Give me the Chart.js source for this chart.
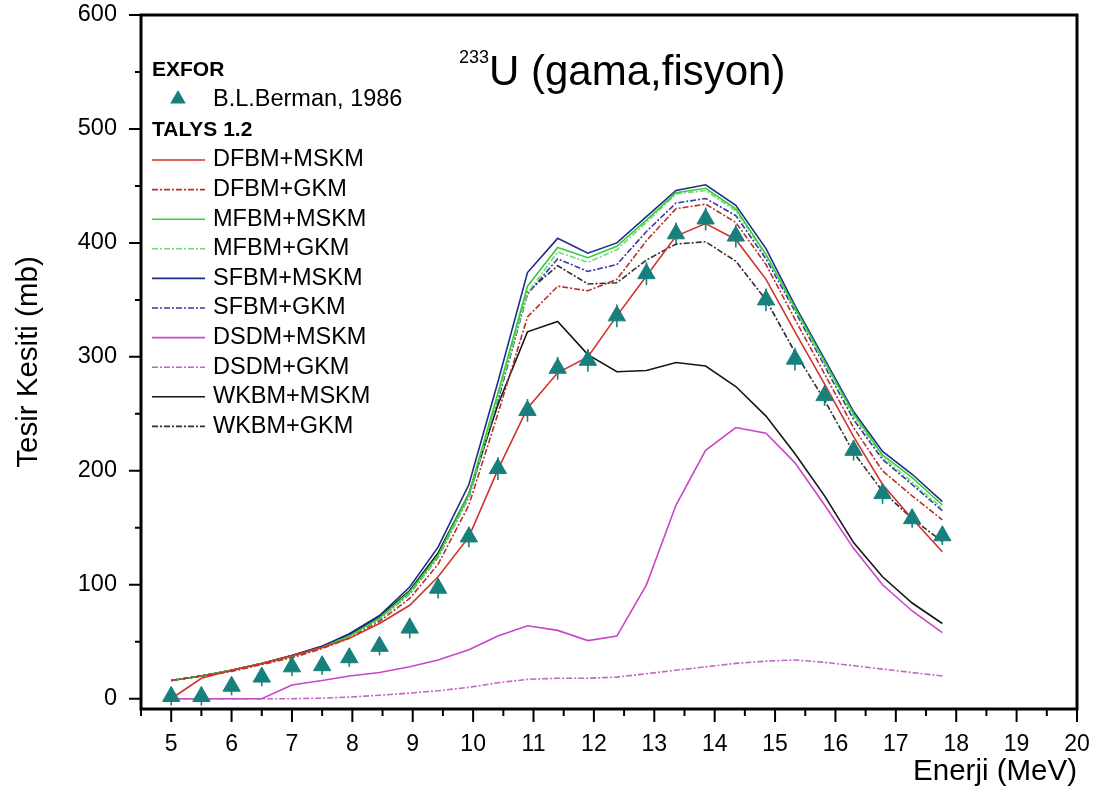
<!DOCTYPE html>
<html>
<head>
<meta charset="utf-8">
<script src="https://cdn.jsdelivr.net/npm/chart.js@4.4.1/dist/chart.umd.min.js"></script>
<style>
  html, body { margin: 0; padding: 0; background: #ffffff; }
  #wrap { width: 1096px; height: 795px; position: relative; }
</style>
</head>
<body>
<div id="wrap"><canvas id="c" width="1096" height="795"></canvas></div>
<script>
// Photon energies (MeV) of the measured points and model calculations
const energies = [5.0, 5.5, 6.0, 6.5, 7.0, 7.5, 7.95, 8.45, 8.95, 9.42, 9.93, 10.41, 10.9, 11.4, 11.9,
                  12.38, 12.87, 13.36, 13.85, 14.35, 14.85, 15.33, 15.82, 16.3, 16.78, 17.27, 17.77];

// EXFOR: B.L.Berman, 1986 (mb) and uncertainties
const berman    = [2, 2, 11, 19, 28, 29, 36, 46, 62, 97, 142, 202, 253, 290, 297,
                   336, 373, 408, 421, 406, 350, 298, 266, 218, 180, 158, 143];
const bermanErr = [8, 8, 8, 8, 8, 8, 8, 8, 9, 9, 9, 10, 10, 10, 10,
                   10, 10, 10, 10, 10, 10, 10, 9, 9, 9, 8, 8];

// TALYS 1.2 fission cross sections (mb)
const dfbmMskm = [0, 18, 25, 31, 38, 45, 53, 66, 82, 107, 142, 201, 255, 286, 300,
                  336, 371, 406, 417, 403, 368, 322, 276, 230, 188, 158, 129];
const dfbmGkm  = [16, 20, 24, 30, 36, 44, 53, 68, 88, 118, 170, 250, 335, 362, 358,
                  368, 402, 430, 434, 418, 381, 333, 285, 238, 200, 178, 157];
const mfbmMskm = [16, 20, 25, 31, 37, 45, 55, 71, 94, 126, 180, 268, 362, 396, 387,
                  397, 420, 444, 448, 430, 390, 343, 296, 250, 214, 194, 170];
const mfbmGkm  = [16, 20, 25, 31, 37, 45, 55, 70, 92, 124, 177, 264, 356, 392, 383,
                  394, 418, 443, 446, 428, 389, 342, 294, 248, 212, 190, 167];
const sfbmMskm = [16, 20, 25, 31, 38, 46, 57, 73, 98, 133, 188, 278, 374, 404, 391,
                  400, 423, 446, 451, 433, 395, 345, 298, 252, 217, 197, 173];
const sfbmGkm  = [16, 20, 25, 31, 37, 45, 55, 70, 92, 124, 177, 262, 355, 386, 375,
                  381, 410, 435, 439, 424, 386, 340, 292, 245, 210, 188, 165];
const dsdmMskm = [0, 0, 0, 0, 12, 16, 20, 23, 28, 34, 43, 55, 64, 60, 51,
                  55, 100, 170, 218, 238, 233, 207, 170, 132, 100, 77, 58];
const dsdmGkm  = [0, 0, 0, 0, 0, 0.5, 1.5, 3, 5, 7, 10, 14, 17, 18, 18,
                  19, 22, 25, 28, 31, 33, 34, 32, 29, 26, 23, 20];
const wkbmMskm = [16, 20, 25, 31, 38, 46, 56, 72, 95, 128, 180, 258, 322, 331, 302,
                  287, 288, 295, 292, 274, 248, 215, 178, 137, 107, 84, 66];
const wkbmGkm  = [16, 20, 25, 31, 37, 45, 55, 70, 93, 125, 178, 262, 357, 380, 364,
                  365, 385, 399, 401, 384, 350, 304, 262, 216, 182, 158, 138];

const seriesNames = ['DFBM+MSKM', 'DFBM+GKM', 'MFBM+MSKM', 'MFBM+GKM', 'SFBM+MSKM',
                     'SFBM+GKM', 'DSDM+MSKM', 'DSDM+GKM', 'WKBM+MSKM', 'WKBM+GKM'];
const seriesValues = [dfbmMskm, dfbmGkm, mfbmMskm, mfbmGkm, sfbmMskm,
                      sfbmGkm, dsdmMskm, dsdmGkm, wkbmMskm, wkbmGkm];

const xTicks = [5, 6, 7, 8, 9, 10, 11, 12, 13, 14, 15, 16, 17, 18, 19, 20];
const yTicks = [0, 100, 200, 300, 400, 500, 600];
const xMinorTicks = [4.5, 5.5, 6.5, 7.5, 8.5, 9.5, 10.5, 11.5, 12.5, 13.5, 14.5, 15.5, 16.5, 17.5, 18.5, 19.5];
const yMinorTicks = [50, 150, 250, 350, 450, 550];

const FONT = '"Liberation Sans", Arial, Helvetica, sans-serif';
const TEAL = '#17807d';
const DASHDOT = [6, 2, 2, 2];

const lineStyles = [
  { color: '#d2322d', dash: [] },
  { color: '#b8302a', dash: DASHDOT },
  { color: '#35cf35', dash: [] },
  { color: '#74d874', dash: DASHDOT },
  { color: '#1c2c8c', dash: [] },
  { color: '#3636a6', dash: DASHDOT },
  { color: '#c846c8', dash: [] },
  { color: '#c264c8', dash: DASHDOT },
  { color: '#151515', dash: [] },
  { color: '#303030', dash: DASHDOT }
];

const toPoints = vals => energies.map((e, i) => ({ x: e, y: vals[i] }));

const datasets = [{
  label: 'B.L.Berman, 1986',
  data: toPoints(berman),
  showLine: false,
  pointStyle: 'triangle',
  pointRadius: 10,
  backgroundColor: TEAL,
  borderColor: TEAL,
  borderWidth: 1
}];
seriesNames.forEach((name, i) => {
  datasets.push({
    label: name,
    data: toPoints(seriesValues[i]),
    showLine: true,
    borderColor: lineStyles[i].color,
    borderDash: lineStyles[i].dash,
    borderWidth: 1.6,
    pointRadius: 0,
    fill: false,
    tension: 0
  });
});

// Frame, tick marks, titles, error bars and the legend block
const decor = {
  id: 'decor',
  beforeDatasetsDraw(chart) {
    const { ctx, scales: { x, y } } = chart;
    ctx.save();
    ctx.strokeStyle = TEAL;
    ctx.lineWidth = 1.6;
    energies.forEach((e, i) => {
      const px = x.getPixelForValue(e);
      ctx.beginPath();
      ctx.moveTo(px, y.getPixelForValue(berman[i] - bermanErr[i]));
      ctx.lineTo(px, y.getPixelForValue(berman[i] + bermanErr[i]));
      ctx.stroke();
    });
    ctx.restore();
  },
  afterDraw(chart) {
    const { ctx, chartArea: a, scales: { x, y } } = chart;
    ctx.save();
    ctx.strokeStyle = '#000';
    ctx.fillStyle = '#000';

    // frame
    ctx.lineWidth = 3;
    ctx.strokeRect(a.left, a.top, a.right - a.left, a.bottom - a.top);

    // tick marks
    ctx.lineWidth = 2;
    ctx.beginPath();
    xTicks.forEach(v => { const p = x.getPixelForValue(v); ctx.moveTo(p, a.bottom); ctx.lineTo(p, a.bottom + 13); });
    xMinorTicks.forEach(v => { const p = x.getPixelForValue(v); ctx.moveTo(p, a.bottom); ctx.lineTo(p, a.bottom + 7); });
    yTicks.forEach(v => { const p = y.getPixelForValue(v); ctx.moveTo(a.left, p); ctx.lineTo(a.left - 12, p); });
    yMinorTicks.forEach(v => { const p = y.getPixelForValue(v); ctx.moveTo(a.left, p); ctx.lineTo(a.left - 6, p); });
    ctx.stroke();

    // axis titles
    ctx.font = `29.5px ${FONT}`;
    ctx.textAlign = 'center';
    ctx.textBaseline = 'middle';
    ctx.save();
    ctx.translate(29, 362);
    ctx.rotate(-Math.PI / 2);
    ctx.fillText('Tesir Kesiti (mb)', 0, 0);
    ctx.restore();
    ctx.textAlign = 'right';
    ctx.textBaseline = 'alphabetic';
    ctx.fillText('Enerji (MeV)', a.right, 780);

    // chart title with mass-number superscript
    ctx.textAlign = 'left';
    ctx.font = `18px ${FONT}`;
    ctx.fillText('233', 459, 63);
    ctx.font = `42px ${FONT}`;
    ctx.fillText('U (gama,fisyon)', 489, 85);

    // legend
    ctx.textBaseline = 'middle';
    ctx.font = `bold 21px ${FONT}`;
    ctx.fillText('EXFOR', 152, 70);
    ctx.fillText('TALYS 1.2', 152, 130);

    ctx.fillStyle = TEAL;
    const tr = 9, tx = 178, ty = 99;
    ctx.beginPath();
    ctx.moveTo(tx, ty - tr);
    ctx.lineTo(tx + tr * 0.866, ty + tr / 2);
    ctx.lineTo(tx - tr * 0.866, ty + tr / 2);
    ctx.closePath();
    ctx.fill();

    ctx.fillStyle = '#000';
    ctx.font = `23.5px ${FONT}`;
    ctx.fillText('B.L.Berman, 1986', 213, 100);

    seriesNames.forEach((name, i) => {
      const ly = 160 + i * 29.6;
      ctx.save();
      ctx.strokeStyle = lineStyles[i].color;
      ctx.setLineDash(lineStyles[i].dash);
      ctx.lineWidth = 1.6;
      ctx.beginPath();
      ctx.moveTo(152, ly);
      ctx.lineTo(205, ly);
      ctx.stroke();
      ctx.restore();
      ctx.fillStyle = '#000';
      ctx.fillText(name, 213, ly);
    });
    ctx.restore();
  }
};

new Chart(document.getElementById('c'), {
  type: 'scatter',
  data: { datasets },
  options: {
    responsive: false,
    animation: false,
    devicePixelRatio: 1,
    layout: { padding: { top: 15, right: 19, left: 0, bottom: 0 } },
    plugins: { legend: { display: false }, tooltip: { enabled: false }, title: { display: false } },
    scales: {
      x: {
        type: 'linear',
        min: 4.5,
        max: 20,
        afterBuildTicks: s => { s.ticks = xTicks.map(v => ({ value: v })); },
        afterFit: s => { s.height = 86; s.paddingLeft = 0; s.paddingRight = 0; },
        ticks: { font: { size: 23, family: FONT }, color: '#000', padding: 22, maxRotation: 0, autoSkip: false },
        grid: { display: true, drawOnChartArea: false, drawTicks: false, color: 'rgba(0,0,0,0)' },
        border: { display: false }
      },
      y: {
        type: 'linear',
        min: -9,
        max: 600,
        afterBuildTicks: s => { s.ticks = yTicks.map(v => ({ value: v })); },
        afterFit: s => { s.width = 141; s.paddingTop = 0; s.paddingBottom = 0; },
        ticks: { font: { size: 23.5, family: FONT }, color: '#000', padding: 24 },
        grid: { display: true, drawOnChartArea: false, drawTicks: false, color: 'rgba(0,0,0,0)' },
        border: { display: false }
      }
    }
  },
  plugins: [decor]
});
</script>
</body>
</html>
